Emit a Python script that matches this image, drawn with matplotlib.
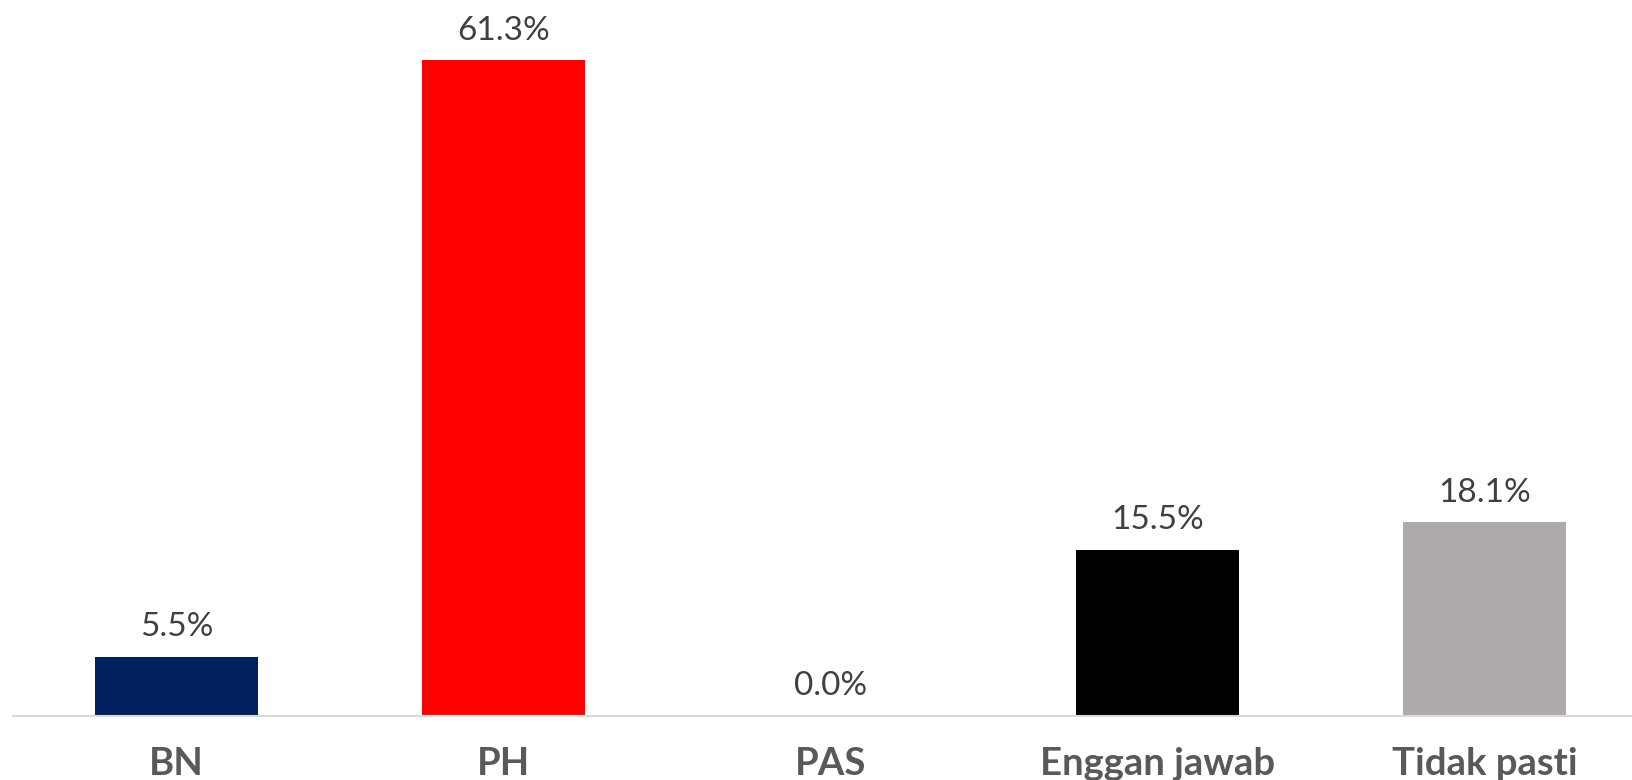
import numpy as np
import matplotlib.pyplot as plt

# survey share by party
categories = ["BN", "PH", "PAS", "Enggan jawab", "Tidak pasti"]
values = [5.5, 61.3, 0.0, 15.5, 18.1]
colors = ["#002060", "#FF0000", "#7F7F7F", "#000000", "#AEAAAA"]

plt.rcParams['font.family'] = ['Lato', 'DejaVu Sans']

fig = plt.figure(figsize=(16.32, 7.8), dpi=100)
ax = fig.add_axes([13 / 1632, 64 / 780, 1 - 13 / 1632, 716 / 780])

x = np.arange(len(categories))
bars = ax.bar(x, values, width=0.5, color=colors)

for xi, v in zip(x, values):
    ax.annotate("{:.1f}%".format(v), (xi, v), xytext=(0, 21.5), textcoords="offset points",
                ha="center", va="center", fontsize=24, color="#404040")

ax.set_xlim(-0.5, 4.451)
ax.set_ylim(0, 66.95)
ax.set_xticks(x)
ax.set_xticklabels(categories, fontsize=27.5, fontweight="bold", color="#595959")
ax.tick_params(axis="x", length=0, pad=22)
ax.set_yticks([])

for s in ["top", "right", "left"]:
    ax.spines[s].set_visible(False)
ax.spines["bottom"].set_color("#D9D9D9")
ax.spines["bottom"].set_linewidth(1.5)

fig.savefig("out.png", dpi=100)
